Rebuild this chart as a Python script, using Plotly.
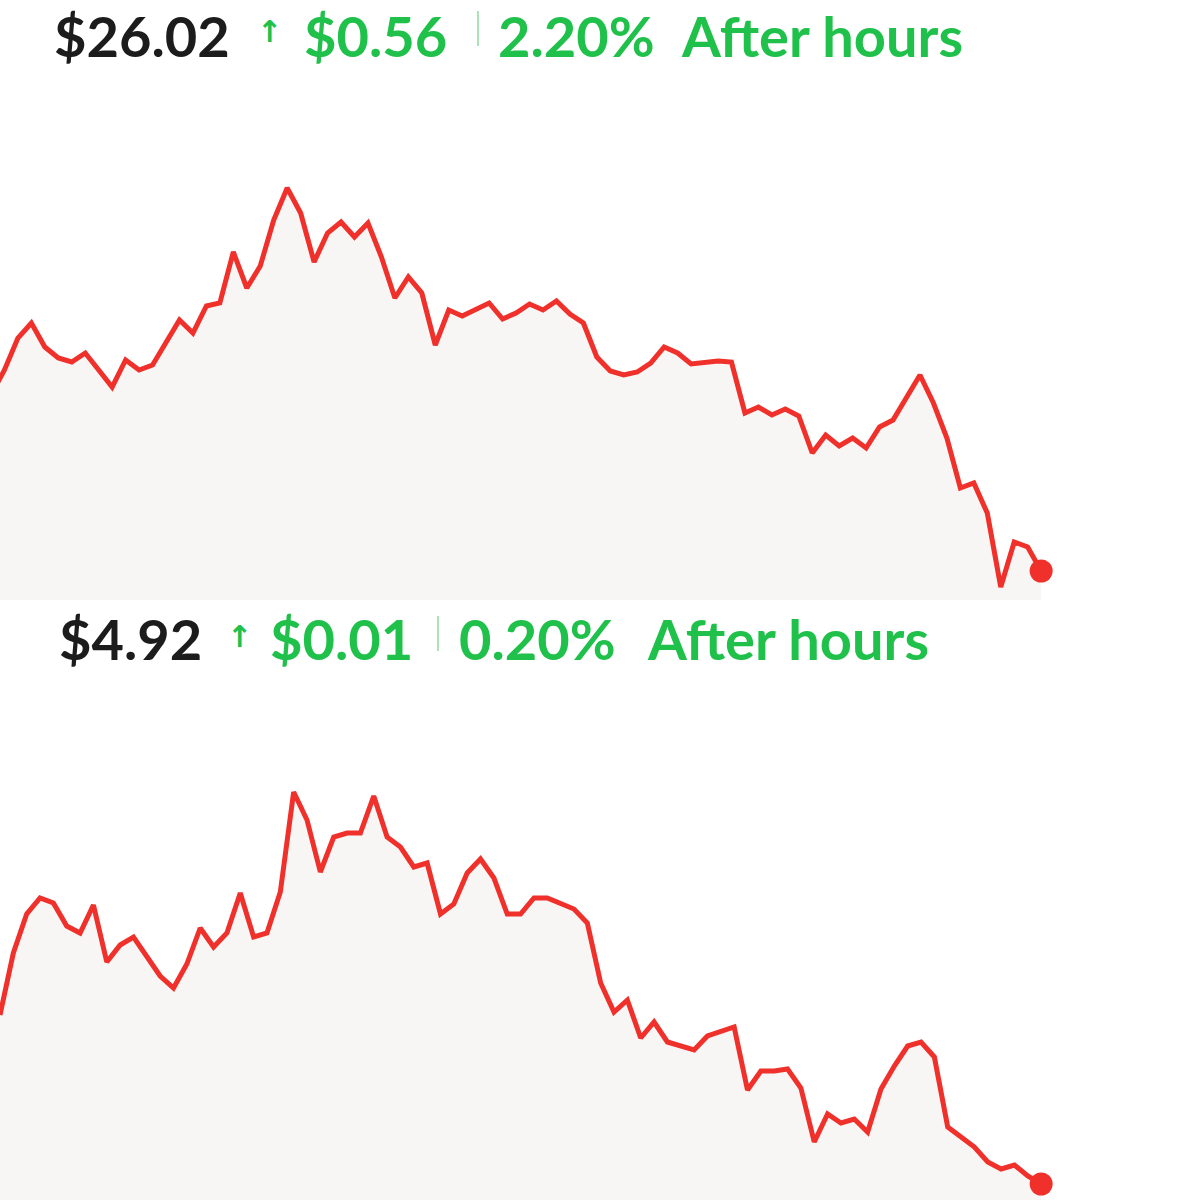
import plotly.graph_objects as go

# Quotes (one per ~minute tick), last one is the current price
top_prices = [27.78, 28.03, 28.35, 28.50, 28.26, 28.15, 28.11, 28.20, 28.03, 27.86,
              28.13, 28.03, 28.08, 28.30, 28.53, 28.40, 28.67, 28.70, 29.21, 28.85,
              29.07, 29.53, 29.85, 29.60, 29.11, 29.40, 29.51, 29.36, 29.50, 29.16,
              28.75, 28.96, 28.80, 28.28, 28.63, 28.57, 28.64, 28.70, 28.54, 28.60,
              28.69, 28.63, 28.72, 28.59, 28.50, 28.16, 28.02, 27.98, 28.01, 28.10,
              28.26, 28.20, 28.09, 28.10, 28.12, 28.11, 27.60, 27.66, 27.58, 27.64,
              27.57, 27.20, 27.38, 27.27, 27.35, 27.25, 27.46, 27.53, 27.75, 27.98,
              27.70, 27.35, 26.85, 26.90, 26.60, 25.86, 26.31, 26.26, 26.02]

bottom_prices = [5.258, 5.382, 5.460, 5.492, 5.482, 5.436, 5.422, 5.478, 5.364, 5.398,
                 5.414, 5.374, 5.336, 5.312, 5.360, 5.432, 5.394, 5.422, 5.502, 5.414,
                 5.422, 5.504, 5.704, 5.648, 5.544, 5.614, 5.622, 5.622, 5.696, 5.614,
                 5.594, 5.554, 5.562, 5.460, 5.480, 5.542, 5.570, 5.532, 5.460, 5.460,
                 5.492, 5.492, 5.482, 5.470, 5.442, 5.322, 5.264, 5.288, 5.212, 5.244,
                 5.204, 5.196, 5.188, 5.216, 5.226, 5.234, 5.108, 5.146, 5.146, 5.150,
                 5.112, 5.004, 5.060, 5.042, 5.050, 5.024, 5.110, 5.156, 5.196, 5.204,
                 5.174, 5.034, 5.014, 4.994, 4.964, 4.950, 4.958, 4.936, 4.920]

top_ticks = list(range(len(top_prices)))
bottom_ticks = list(range(len(bottom_prices)))

top_header = ["$26.02", "\u2191", "$0.56", "2.20%", "After hours"]
bottom_header = ["$4.92", "\u2191", "$0.01", "0.20%", "After hours"]

RED = "#f0302a"
GREEN = "#20c14a"
INK = "#1c1c1c"
FILL = "#f8f6f4"

fig = go.Figure()

panels = [
    (top_ticks, top_prices, "x", "y"),
    (bottom_ticks, bottom_prices, "x2", "y2"),
]
for xs, ys, xa, ya in panels:
    fig.add_trace(go.Scatter(
        x=xs, y=ys, xaxis=xa, yaxis=ya,
        mode="lines",
        line=dict(color=RED, width=5),
        fill="tozeroy", fillcolor=FILL,
        hoverinfo="skip", showlegend=False,
    ))
    # current price dot
    fig.add_trace(go.Scatter(
        x=[xs[-1]], y=[ys[-1]], xaxis=xa, yaxis=ya,
        mode="markers",
        marker=dict(color=RED, size=23),
        hoverinfo="skip", showlegend=False,
    ))

# header rows: left edge (px) of each piece
header_x = {
    "top": [52, 255, 302, 496, 679],
    "bottom": [57, 225, 268, 457, 645],
}
rows = [("top", top_header, 0, 29, 478), ("bottom", bottom_header, 603, 634, 438)]
for key, texts, ytop, ymid, sep_x in rows:
    for i, (txt, xl) in enumerate(zip(texts, header_x[key])):
        if i == 1:
            fig.add_annotation(
                text=f"<b>{txt}</b>", xref="paper", yref="paper",
                x=xl / 1200, y=1 - (ymid + 2) / 1200,
                xanchor="left", yanchor="middle", showarrow=False,
                font=dict(family="DejaVu Sans", size=30, color=GREEN),
            )
            continue
        fig.add_annotation(
            text=f"<b>{txt}</b>",
            xref="paper", yref="paper",
            x=xl / 1200, y=1 - ytop / 1200,
            xanchor="left", yanchor="top",
            showarrow=False,
            font=dict(family="Lato", size=56, color=INK if i == 0 else GREEN),
        )
    fig.add_shape(
        type="line", xref="paper", yref="paper",
        x0=sep_x / 1200, x1=sep_x / 1200,
        y0=1 - (ymid - 18) / 1200, y1=1 - (ymid + 17) / 1200,
        line=dict(color="#8fd9a3", width=1.5),
    )

fig.update_layout(
    width=1200, height=1200,
    margin=dict(l=0, r=0, t=0, b=0),
    paper_bgcolor="white", plot_bgcolor="rgba(0,0,0,0)",
    xaxis=dict(domain=[0, 1], range=[0.67, 89.8], visible=False),
    yaxis=dict(domain=[0.5, 1], range=[25.73, 31.73], visible=False),
    xaxis2=dict(domain=[0, 1], range=[0, 89.9], visible=False, anchor="y2"),
    yaxis2=dict(domain=[0, 0.5], range=[4.888, 6.088], visible=False, anchor="x2"),
)

fig.write_html("out.html", config={"displayModeBar": False},
               post_script="document.body.style.margin='0';")
